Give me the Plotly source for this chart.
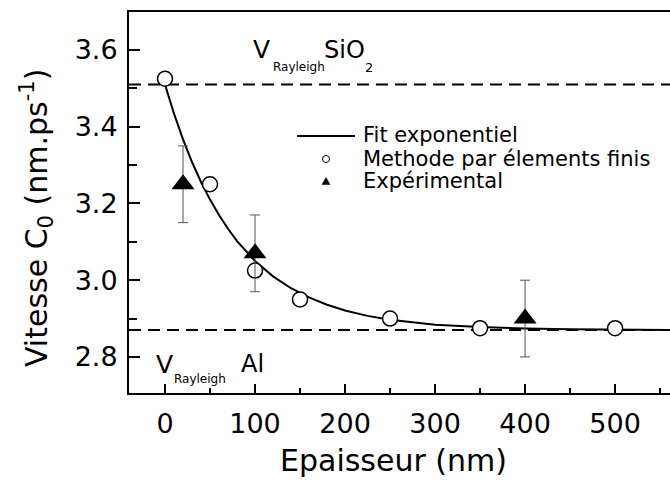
import plotly.graph_objects as go

# ---------------- data ----------------
fem_x = [0, 50, 100, 150, 250, 350, 500]
fem_y = [3.525, 3.25, 3.025, 2.95, 2.90, 2.875, 2.875]

exp_x = [20, 100, 400]
exp_y = [3.25, 3.07, 2.90]
exp_err = [0.10, 0.10, 0.10]

fit_x = [0, 10, 20, 30, 40, 50, 60, 70, 80, 90, 100, 120, 140, 160, 180, 200,
         225, 250, 275, 300, 350, 400, 450, 500, 561]
fit_y = [3.510, 3.434, 3.367, 3.308, 3.256, 3.210, 3.170, 3.134, 3.102, 3.075,
         3.050, 3.010, 2.979, 2.955, 2.936, 2.921, 2.907, 2.897, 2.890, 2.884,
         2.878, 2.874, 2.872, 2.871, 2.870]

v_sio2 = 3.51
v_al = 2.87

x_ticks = [0, 100, 200, 300, 400, 500]
y_ticks = [2.8, 3.0, 3.2, 3.4, 3.6]

legend_labels = ["Fit exponentiel", "Methode par élements finis", "Expérimental"]

# ---------------- layout geometry ----------------
W, H = 670, 488
L, R, T, B = 129, 0, 12, 95
PW = W - L - R
PH = H - T - B
FONT = "DejaVu Sans"


def px_x(px):
    return (px - L) / PW


def px_y(py):
    return (H - B - py) / PH


fig = go.Figure()

fig.add_trace(go.Scatter(x=fit_x, y=fit_y, mode="lines",
                         line=dict(color="black", width=2),
                         showlegend=False, hoverinfo="skip"))
fig.add_trace(go.Scatter(x=fem_x, y=fem_y, mode="markers",
                         marker=dict(symbol="circle", size=15, color="white",
                                     line=dict(color="black", width=1.5)),
                         showlegend=False))
fig.add_trace(go.Scatter(x=exp_x, y=exp_y, mode="markers",
                         marker=dict(symbol="triangle-up", size=20, color="black",
                                     line=dict(width=0)),
                         error_y=dict(type="data", array=exp_err, visible=True,
                                      color="#555555", thickness=1, width=5),
                         showlegend=False))

shapes = []
for v in (v_sio2, v_al):
    shapes.append(dict(type="line", xref="paper", x0=0, x1=1, yref="y", y0=v, y1=v,
                       line=dict(color="black", width=2, dash="12px,7px"),
                       layer="below"))

# manual legend
shapes.append(dict(type="line", xref="paper", yref="paper",
                   x0=px_x(297), x1=px_x(355), y0=px_y(136), y1=px_y(136),
                   line=dict(color="black", width=2)))
shapes.append(dict(type="circle", xref="paper", yref="paper",
                   x0=px_x(322.5), x1=px_x(329.5), y0=px_y(162.5), y1=px_y(155.5),
                   line=dict(color="black", width=1), fillcolor="white"))
tri = "M {a},{b} L {c},{b} L {d},{e} Z".format(
    a=px_x(322), c=px_x(330), b=px_y(184.5), d=px_x(326), e=px_y(177.5))
shapes.append(dict(type="path", xref="paper", yref="paper", path=tri,
                   fillcolor="black", line=dict(color="black", width=0.5)))

ann = []
for lbl, py in zip(legend_labels, [135, 159, 181]):
    ann.append(dict(text=lbl, xref="paper", yref="paper", x=px_x(361), y=px_y(py),
                    xanchor="left", yanchor="middle", showarrow=False,
                    font=dict(family=FONT, size=21, color="black")))


def txt(t, x, y, size, anchor="left"):
    return dict(text=t, xref="paper", yref="paper", x=px_x(x), y=px_y(y),
                xanchor=anchor, yanchor="middle", showarrow=False,
                font=dict(family=FONT, size=size, color="black"))


# V_Rayleigh SiO2
ann.append(txt("V", 251, 50, 25))
ann.append(txt("Rayleigh", 271, 67, 12))
ann.append(txt("SiO", 322, 50, 24))
ann.append(txt("2", 363, 67, 13))
# V_Rayleigh Al
ann.append(txt("V", 154, 364, 25))
ann.append(txt("Rayleigh", 172, 379, 12))
ann.append(txt("Al", 239, 364, 24))

# axis titles
ann.append(dict(text="Epaisseur (nm)", xref="paper", yref="paper",
                x=px_x(393), y=px_y(460), xanchor="center", yanchor="middle",
                showarrow=False, font=dict(family=FONT, size=30, color="black")))
ann.append(dict(text="Vitesse C<sub>0</sub> (nm.ps<sup>-1</sup>)", xref="paper",
                yref="paper", x=px_x(36), y=px_y(218), xanchor="center",
                yanchor="middle", textangle=-90, showarrow=False,
                font=dict(family=FONT, size=30, color="black")))

fig.update_layout(
    width=W, height=H,
    margin=dict(l=L, r=R, t=T, b=B, pad=0),
    paper_bgcolor="white", plot_bgcolor="white",
    showlegend=False,
    shapes=shapes, annotations=ann,
    font=dict(family=FONT, color="black"),
)
fig.update_xaxes(range=[-40, 561], tickvals=x_ticks, ticks="inside", ticklen=9,
                 tickwidth=2, tickcolor="black", showline=True, linecolor="black",
                 linewidth=2, mirror=True, showgrid=False, zeroline=False,
                 tickfont=dict(family=FONT, size=27, color="black"),
                 minor=dict(dtick=50, tick0=0, ticks="inside", ticklen=5,
                            tickwidth=2, tickcolor="black", showgrid=False),
                 ticklabelstandoff=6)
fig.update_yaxes(range=[2.706, 3.699], tickvals=y_ticks, ticktext=["2.8", "3.0", "3.2", "3.4", "3.6"],
                 ticks="inside", ticklen=11, tickwidth=2, tickcolor="black",
                 showline=True, linecolor="black", linewidth=2, mirror=False,
                 showgrid=False, zeroline=False,
                 tickfont=dict(family=FONT, size=27, color="black"),
                 minor=dict(dtick=0.1, tick0=2.7, ticks="inside", ticklen=8,
                            tickwidth=2, tickcolor="black", showgrid=False),
                 ticklabelstandoff=4)

fig.write_html("out.html")
